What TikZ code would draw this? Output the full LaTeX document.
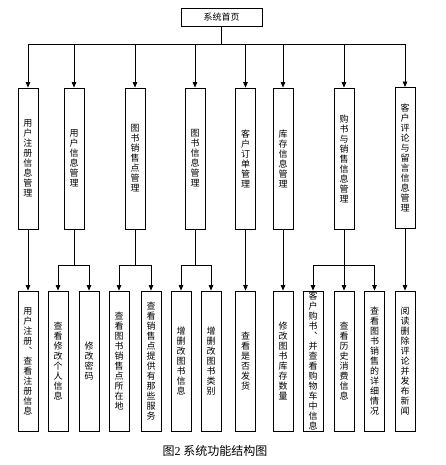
\documentclass[tikz,border=0pt]{standalone}
\usepackage{fontspec}
\setmainfont{Noto Sans CJK SC}
\newfontfamily\latinfont{Liberation Serif}
\usetikzlibrary{arrows.meta}
\makeatletter
\newcommand{\vtxt}[1]{\vbox{\baselineskip=10pt\@tfor\vch:=#1\do{\hbox to 10pt{\hss\vch\hss}}}}
\makeatother

\begin{document}
\begin{tikzpicture}[x=1pt,y=-1pt,
    box/.style={draw,line width=0.8pt,inner sep=0pt,font=\fontsize{9}{10}\selectfont},
    lvtwo/.style={box,minimum width=20pt,minimum height=141pt},
    lvthree/.style={box,minimum width=20pt,minimum height=140pt},
    link/.style={line width=0.8pt},
    arr/.style={link,-{Triangle[width=4.5pt,length=5.5pt]}}]
    \useasboundingbox (0,0) rectangle (445,465);
    \node[box,minimum width=81pt,minimum height=18pt] (home) at (221.5,17) {系统首页};
    \coordinate (hub) at (221.5,44);
    % second level
    \node[lvtwo] (reg) at (28,158.5) {\vtxt{用户注册信息管理}};
    \node[lvtwo] (user) at (74,158.5) {\vtxt{用户信息管理}};
    \node[lvtwo] (shop) at (135,158.5) {\vtxt{图书销售点管理}};
    \node[lvtwo] (book) at (195,158.5) {\vtxt{图书信息管理}};
    \node[lvtwo] (order) at (245.5,158.5) {\vtxt{客户订单管理}};
    \node[lvtwo] (stock) at (283,158.5) {\vtxt{库存信息管理}};
    \node[lvtwo] (sale) at (344,158.5) {\vtxt{购书与销售信息管理}};
    \node[lvtwo] (review) at (405,158) {\vtxt{客户评论与留言信息管理}};
    \draw[link] (home) -- (hub);
    \draw[arr] (hub) -| (reg);
    \draw[arr] (hub) -| (user);
    \draw[arr] (hub) -| (shop);
    \draw[arr] (hub) -| (book);
    \draw[arr] (hub) -| (order);
    \draw[arr] (hub) -| (stock);
    \draw[arr] (hub) -| (sale);
    \draw[arr] (hub) -| (review);
    % third level
    \node[lvthree] (regA) at (28,361) {\vtxt{用户注册︑查看注册信息}};
    \node[lvthree] (userA) at (58,361) {\vtxt{查看修改个人信息}};
    \node[lvthree] (userB) at (89,361) {\vtxt{修改密码}};
    \node[lvthree] (shopA) at (119,361) {\vtxt{查看图书销售点所在地}};
    \node[lvthree] (shopB) at (151,361) {\vtxt{查看销售点提供有那些服务}};
    \node[lvthree] (bookA) at (181,361) {\vtxt{增删改图书信息}};
    \node[lvthree] (bookB) at (211,361) {\vtxt{增删改图书类别}};
    \node[lvthree] (orderA) at (245.5,361) {\vtxt{查看是否发货}};
    \node[lvthree] (stockA) at (283,361) {\vtxt{修改图书库存数量}};
    \node[lvthree] (saleA) at (313,361) {\vtxt{客户购书︑并查看购物车中信息}};
    \node[lvthree] (saleB) at (344,361) {\vtxt{查看历史消费信息}};
    \node[lvthree] (saleC) at (374.5,361) {\vtxt{查看图书销售的详细情况}};
    \node[lvthree] (reviewA) at (405,361) {\vtxt{阅读删除评论并发布新闻}};
    \coordinate (userJ) at (74,265);
    \coordinate (shopJ) at (135,265);
    \coordinate (bookJ) at (195,265);
    \coordinate (saleJ) at (344,265);
    \draw[arr] (reg) -- (regA);
    \draw[link] (user) -- (userJ);
    \draw[arr] (userJ) -| (userA);
    \draw[arr] (userJ) -| (userB);
    \draw[link] (shop) -- (shopJ);
    \draw[arr] (shopJ) -| (shopA);
    \draw[arr] (shopJ) -| (shopB);
    \draw[link] (book) -- (bookJ);
    \draw[arr] (bookJ) -| (bookA);
    \draw[arr] (bookJ) -| (bookB);
    \draw[arr] (order) -- (orderA);
    \draw[arr] (stock) -- (stockA);
    \draw[link] (sale) -- (saleJ);
    \draw[arr] (saleJ) -| (saleA);
    \draw[arr] (saleJ) -- (saleB);
    \draw[arr] (saleJ) -| (saleC);
    \draw[arr] (review) -- (reviewA);
    \node[font=\fontsize{12}{14}\selectfont] (caption) at (215,451) {图{\latinfont 2} 系统功能结构图};
\end{tikzpicture}
\end{document}
